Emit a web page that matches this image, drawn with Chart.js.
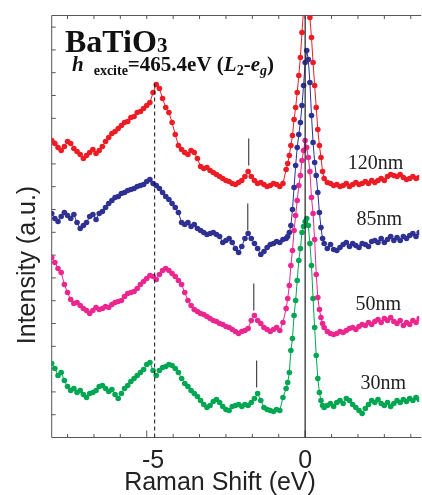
<!DOCTYPE html>
<html>
<head>
<meta charset="utf-8">
<script src="https://cdn.jsdelivr.net/npm/chart.js@4/dist/chart.umd.min.js"></script>
<style>
  html, body { margin: 0; padding: 0; background: #fff; overflow: hidden; }
  canvas { display: block; }
</style>
</head>
<body>
<canvas id="chart" width="422" height="495"></canvas>
<script>
// Raman shift (eV), finer steps across the elastic peak
const shift = [
  -8.0, -7.9, -7.8, -7.7, -7.6, -7.5, -7.4, -7.3, -7.2, -7.1,
  -7.0, -6.9, -6.8, -6.7, -6.6, -6.5, -6.4, -6.3, -6.2, -6.1,
  -6.0, -5.9, -5.8, -5.7, -5.6, -5.5, -5.4, -5.3, -5.2, -5.1,
  -5.0, -4.9, -4.8, -4.7, -4.6, -4.5, -4.4, -4.3, -4.2, -4.1,
  -4.0, -3.9, -3.8, -3.7, -3.6, -3.5, -3.4, -3.3, -3.2, -3.1,
  -3.0, -2.9, -2.8, -2.7, -2.6, -2.5, -2.4, -2.3, -2.2, -2.1,
  -2.0, -1.9, -1.8, -1.7, -1.6, -1.5, -1.4, -1.3, -1.2, -1.1,
  -1.0, -0.9, -0.8, -0.7,
  -0.6, -0.55, -0.5, -0.45, -0.4, -0.35, -0.3, -0.25, -0.2, -0.15,
  -0.1, -0.05, 0, 0.05, 0.1, 0.15, 0.2, 0.25, 0.3, 0.35,
  0.4, 0.45, 0.5, 0.55, 0.6,
  0.7, 0.8, 0.9, 1.0, 1.1, 1.2, 1.3, 1.4, 1.5, 1.6,
  1.7, 1.8, 1.9, 2.0, 2.1, 2.2, 2.3, 2.4, 2.5, 2.6,
  2.7, 2.8, 2.9, 3.0, 3.1, 3.2, 3.3, 3.4, 3.5, 3.6
];

// intensity (a.u., spectra offset vertically)
const nm120 = [
  297, 294, 290, 287, 291, 296, 294, 289, 286, 283,
  279, 282, 285, 288, 284, 287, 291, 296, 300, 304,
  306, 309, 312, 315, 316, 320, 321, 325, 326, 329,
  332, 335, 345, 353, 349, 339, 330, 325, 315, 303,
  292, 288, 285, 283, 287, 285, 279, 271, 269, 270,
  267, 265, 263, 261, 259, 257, 256, 254, 253, 255,
  257, 261, 266, 261, 257, 254, 255, 253, 251, 252,
  254, 253, 251, 254,
  268, 274, 282, 292, 302, 318, 330, 345, 362, 380,
  405, 428, 445, 452, 445, 420, 400, 375, 352, 330,
  308, 292, 280, 266, 259,
  255, 254, 252, 253, 251, 252, 254, 251, 253, 255,
  253, 254, 256, 254, 257, 255, 257, 259, 257, 261,
  263, 262, 261, 263, 260, 258, 259, 261, 259, 260
];
const nm85 = [
  224, 219, 216, 221, 225, 222, 219, 223, 215, 209,
  212, 215, 221, 223, 218, 224, 226, 230, 234, 237,
  240, 241, 244, 245, 247, 248, 249, 251, 252, 253,
  256, 258, 254, 252, 249, 245, 241, 238, 234, 230,
  225, 215, 213, 215, 211, 213, 209, 207, 205, 203,
  204, 205, 203, 201, 195, 197, 199, 195, 189, 185,
  191, 199, 204, 199, 194, 189, 183, 186, 190, 193,
  194, 196, 195, 198,
  199, 201, 205, 212, 228, 250, 272, 290, 303, 315,
  332, 352, 375, 387, 378, 355, 322, 295, 275, 262,
  245, 225, 210, 199, 194,
  189, 193, 188, 187, 190, 193, 195, 191, 194, 192,
  190, 194, 193, 191, 196, 197, 195, 199, 195, 198,
  201, 197, 200, 197, 201, 199, 202, 204, 201, 205
];
const nm50 = [
  180, 175, 169, 165, 153, 145, 138, 134, 135, 132,
  129, 127, 124, 127, 130, 128, 129, 131, 130, 133,
  135, 136, 137, 141, 144, 145, 146, 149, 153, 156,
  159, 162, 161, 158, 163, 167, 169, 167, 164, 161,
  157, 153, 145, 137, 132, 128, 126, 124, 123, 121,
  119, 117, 116, 114, 113, 111, 110, 108, 106, 104,
  106, 107, 109, 117, 122, 117, 114, 110, 108, 106,
  108, 110, 107, 115,
  129, 139, 152, 172, 187, 207, 222, 237, 252, 262,
  277, 287, 297, 290, 280, 266, 240, 224, 198, 163,
  140, 128, 120, 114, 110,
  106, 104, 103, 104, 106, 105, 107, 109, 110, 108,
  111, 113, 112, 115, 113, 116, 118, 115, 119, 117,
  120, 116, 114, 117, 112, 115, 113, 117, 115, 119
];
const nm30 = [
  74, 69, 62, 65, 57, 51, 47, 49, 45, 47,
  43, 40, 44, 45, 47, 51, 52, 49, 46, 48,
  43, 39, 44, 49, 52, 56, 59, 62, 65, 68,
  73, 75, 67, 62, 67, 70, 71, 73, 72, 69,
  65, 59, 54, 51, 47, 44, 41, 37, 33, 30,
  32, 36, 38, 35, 31, 28, 27, 31, 32, 33,
  31, 33, 32, 35, 39, 44, 37, 30, 28, 27,
  26, 28, 27, 40,
  49, 55, 65, 87, 99, 122, 137, 157, 177, 189,
  205, 211, 216, 219, 212, 194, 172, 139, 110, 82,
  59, 45, 37, 32, 30,
  32, 34, 31, 35, 37, 34, 39, 37, 33, 30,
  27, 24, 29, 33, 37, 35, 38, 34, 32, 35,
  31, 34, 37, 35, 38, 36, 39, 37, 40, 38
];

const sizes = ['120nm', '85nm', '50nm', '30nm'];
const series = [nm120, nm85, nm50, nm30];
const colors = ['#ed1c24', '#2e3192', '#ec268f', '#00a651'];

// small feature near -1.7 eV, marked by short bars
const markShift = [-1.78, -1.81, -1.62, -1.53];
const markLow = [272, 207, 127, 50];
const markHigh = [299, 234, 154, 77];

const peakShift = -4.75;   // dashed guide
const peakTop = 354;
const xTicks = [-5, 0];

function pts(ys) {
  return ys.map((y, i) => ({ x: shift[i], y: y }));
}

const datasets = [];
datasets.push({
  data: [{ x: 0, y: 0 }, { x: 0, y: 422 }],
  borderColor: '#222', borderWidth: 1.2, pointRadius: 0
});
datasets.push({
  data: [{ x: peakShift, y: 0 }, { x: peakShift, y: peakTop }],
  borderColor: '#111', borderWidth: 1, borderDash: [4, 3], pointRadius: 0
});
markShift.forEach((m, i) => {
  datasets.push({
    data: [{ x: m, y: markLow[i] }, { x: m, y: markHigh[i] }],
    borderColor: '#222', borderWidth: 1, pointRadius: 0
  });
});
series.forEach((s, i) => {
  datasets.push({
    label: sizes[i],
    data: pts(s),
    borderColor: colors[i],
    backgroundColor: colors[i],
    borderWidth: 1,
    pointRadius: 2.8,
    pointBorderWidth: 0,
    pointHoverRadius: 0
  });
});

// frame with inward ticks, drawn under the spectra
const frame = {
  id: 'frame',
  beforeDatasetsDraw(chart) {
    const ctx = chart.ctx, a = chart.chartArea;
    const x = chart.scales.x, y = chart.scales.y;
    ctx.save();
    ctx.strokeStyle = '#555';
    ctx.lineWidth = 1;
    ctx.beginPath();
    ctx.moveTo(a.right + 2, a.top);
    ctx.lineTo(a.left, a.top);
    ctx.lineTo(a.left, a.bottom);
    ctx.lineTo(a.right + 2, a.bottom);
    for (let k = -9; k <= 4; k++) {
      const px = x.getPixelForValue(k * 5 / 6);
      const len = (k === 0 || k === -6) ? 7 : 3.5;
      ctx.moveTo(px, a.bottom);
      ctx.lineTo(px, a.bottom - len);
      ctx.moveTo(px, a.top);
      ctx.lineTo(px, a.top + 3.5);
    }
    for (let v = 22.8; v < y.max; v += 22.8) {
      const py = y.getPixelForValue(v);
      ctx.moveTo(a.left, py);
      ctx.lineTo(a.left + 4, py);
    }
    ctx.stroke();
    ctx.restore();
  }
};

const labels = {
  id: 'labels',
  afterDraw(chart) {
    const ctx = chart.ctx;
    const x = chart.scales.x, y = chart.scales.y;
    ctx.save();
    ctx.fillStyle = '#111';
    ctx.textAlign = 'left';
    ctx.textBaseline = 'alphabetic';

    ctx.font = 'bold 32px "Liberation Serif"';
    ctx.fillText('BaTiO', 65, 52);
    const w = ctx.measureText('BaTiO').width;
    ctx.font = 'bold 21px "Liberation Serif"';
    ctx.fillText('3', 65 + w, 52);

    const runs = [
      ['h', 'italic bold 21px', 0, 10],
      ['excite', 'bold 14px', 4, 0],
      ['=465.4eV (', 'bold 21px', 0, 0],
      ['L', 'italic bold 21px', 0, 0],
      ['2', 'bold 14px', 4, 0],
      ['-', 'bold 21px', 0, 0],
      ['e', 'italic bold 21px', 0, 0],
      ['g', 'italic bold 14px', 4, 0],
      [')', 'bold 21px', 0, 0]
    ];
    let cx = 72;
    runs.forEach(r => {
      ctx.font = r[1] + ' "Liberation Serif"';
      ctx.fillText(r[0], cx, 71 + r[2]);
      cx += ctx.measureText(r[0]).width + r[3];
    });

    ctx.fillStyle = '#222';
    ctx.font = '20px "Liberation Serif"';
    ctx.textAlign = 'center';
    ctx.textBaseline = 'middle';
    const spot = [[2.22, 274], [2.34, 218], [2.31, 133], [2.47, 54]];
    sizes.forEach((s, i) => {
      ctx.fillText(s, x.getPixelForValue(spot[i][0]), y.getPixelForValue(spot[i][1]));
    });

    ctx.font = '25px "Liberation Sans"';
    ctx.fillText('Raman Shift (eV)', 220, 483);
    ctx.translate(28, 265);
    ctx.rotate(-Math.PI / 2);
    ctx.fillText('Intensity (a.u.)', 0, 0);
    ctx.restore();
  }
};

new Chart(document.getElementById('chart'), {
  type: 'line',
  data: { datasets: datasets },
  plugins: [frame, labels],
  options: {
    responsive: false,
    animation: false,
    events: [],
    layout: { padding: { top: 15.5, right: 0, bottom: 0, left: 0 } },
    plugins: { legend: { display: false }, tooltip: { enabled: false } },
    scales: {
      x: {
        type: 'linear',
        min: -8,
        max: 3.6,
        grid: { display: false, drawTicks: false },
        border: { display: false },
        afterBuildTicks: s => { s.ticks = xTicks.map(v => ({ value: v })); },
        afterFit: s => { s.height = 57.5; },
        ticks: {
          autoSkip: false,
          maxRotation: 0,
          padding: 9,
          color: '#222',
          font: { family: '"Liberation Sans"', size: 25 },
          callback: v => (v === -5 ? '\u2002-5' : String(v))
        }
      },
      y: {
        min: 0,
        max: 422,
        grid: { display: false, drawTicks: false },
        border: { display: false },
        ticks: { display: false },
        afterFit: s => { s.width = 51.7; }
      }
    }
  }
});
</script>
</body>
</html>
